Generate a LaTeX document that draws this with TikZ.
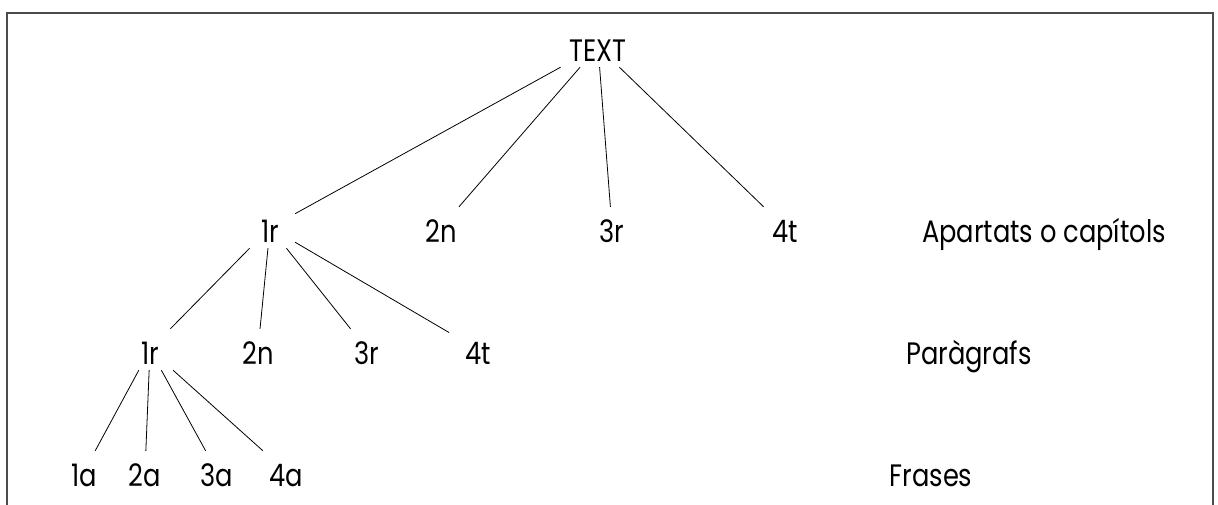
\documentclass[tikz,border=0pt]{standalone}
\usepackage{fontspec}
\setmainfont{Poppins}[FakeStretch=0.83]
\begin{document}
\begin{tikzpicture}[x=1pt,y=-1pt,
  lbl/.style={anchor=base,inner xsep=16pt,inner ysep=6pt,text height=29pt,text depth=0pt,
    font=\fontsize{31}{36}\selectfont},
  edge/.style={draw=black,line width=0.8pt},
  frame/.style={draw=black!70,line width=1.3pt}]
\useasboundingbox (0,0) rectangle (1218,504);
\draw[frame] (7,510) -- (7,13) -- (1213,13) -- (1213,510);
% root (baseline = cap middle + 11)
\node[lbl] (T) at (598,61) {TEXT};
% level 1
\node[lbl] (A1) at (270,242) {1r};
\node[lbl] (A2) at (441,242) {2n};
\node[lbl] (A3) at (612,242) {3r};
\node[lbl] (A4) at (785,242) {4t};
\node[lbl] (LA) at (1044,242) {Apartats o capítols};
% level 2
\node[lbl] (B1) at (150,364) {1r};
\node[lbl] (B2) at (258,364) {2n};
\node[lbl] (B3) at (367,364) {3r};
\node[lbl] (B4) at (478,364) {4t};
\node[lbl] (LB) at (969,364) {Paràgrafs};
% level 3
\node[lbl] (C1) at (84,486) {1a};
\node[lbl] (C2) at (145,486) {2a};
\node[lbl] (C3) at (217,486) {3a};
\node[lbl] (C4) at (286,486) {4a};
\node[lbl] (LC) at (931,486) {Frases};
% connectors
\foreach \n in {A1,A2,A3,A4} \draw[edge] (T) -- (\n);
\foreach \n in {B1,B2,B3,B4} \draw[edge] (A1) -- (\n);
\foreach \n in {C1,C2,C3,C4} \draw[edge] (B1) -- (\n);
\end{tikzpicture}
\end{document}
